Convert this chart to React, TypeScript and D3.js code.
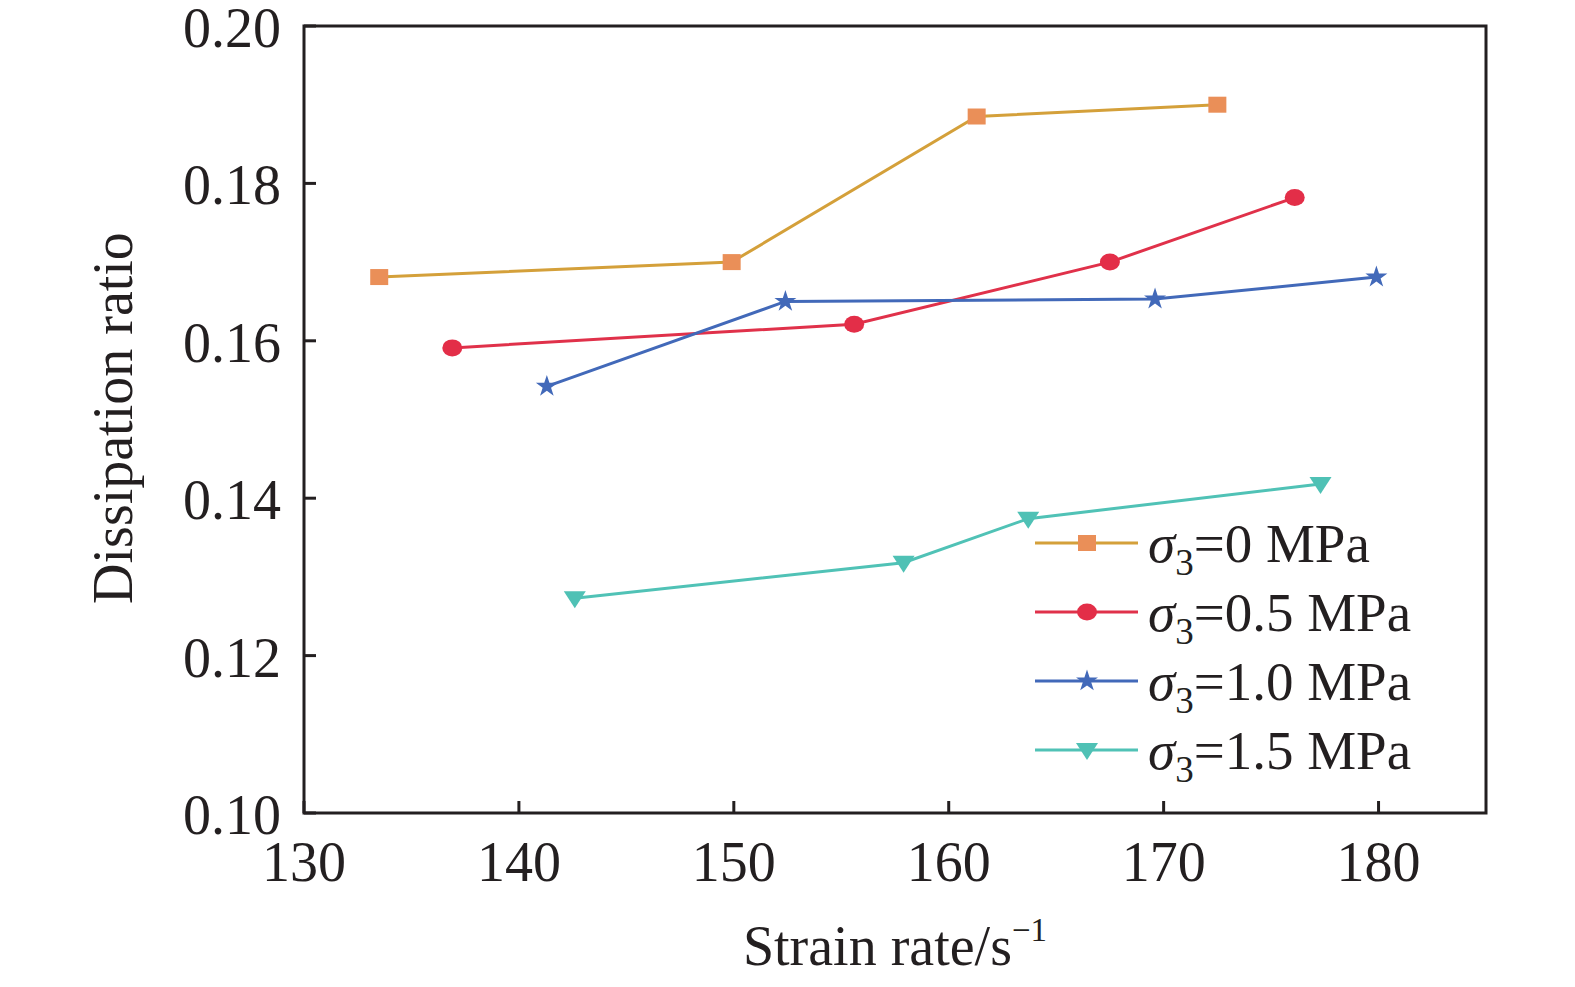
import * as d3 from 'd3';

const strainRate0 = [133.5, 149.9, 161.3, 172.5];
const ratio0 = [0.1681, 0.17, 0.1885, 0.19];
const strainRate05 = [136.9, 155.6, 167.5, 176.1];
const ratio05 = [0.1591, 0.1621, 0.17, 0.1782];
const strainRate10 = [141.3, 152.4, 169.6, 179.9];
const ratio10 = [0.1542, 0.165, 0.1653, 0.1681];
const strainRate15 = [142.6, 157.9, 163.7, 177.3];
const ratio15 = [0.1273, 0.1318, 0.1374, 0.1418];

const xTicks = [130, 140, 150, 160, 170, 180];
const yTicks = [0.1, 0.12, 0.14, 0.16, 0.18, 0.2];
const legendLabels = ['0', '0.5', '1.0', '1.5'];

const width = 1575;
const height = 987;
const margins = { top: 26, right: 89, bottom: 174, left: 304 };

type Series = { xs: number[]; ys: number[]; line: string; fill: string; marker: string };

const series: Series[] = [
    { xs: strainRate0, ys: ratio0, line: '#D4A03A', fill: '#EA8F58', marker: 'square' },
    { xs: strainRate05, ys: ratio05, line: '#E0314A', fill: '#E32E48', marker: 'circle' },
    { xs: strainRate10, ys: ratio10, line: '#4269B9', fill: '#4269B9', marker: 'star' },
    { xs: strainRate15, ys: ratio15, line: '#50C2B6', fill: '#4FC1B5', marker: 'triangle' },
];

const font = '"Liberation Serif", "Times New Roman", serif';

function Marker({ type, x, y, fill }: { type: string; x: number; y: number; fill: string }) {
    if (type === 'square') return <rect x={x - 9} y={y - 8} width={18} height={16} fill={fill} />;
    if (type === 'circle') return <ellipse cx={x} cy={y} rx={10} ry={8.5} fill={fill} />;
    if (type === 'star') {
        const p = d3.symbol().type(d3.symbolStar).size(150)();
        return <path d={p as string} transform={`translate(${x},${y})`} fill={fill} />;
    }
    return <path d="M-11,-7 L11,-7 L0,10 Z" transform={`translate(${x},${y})`} fill={fill} />;
}

export default function App() {
    const xScale = d3.scaleLinear().domain([130, 185]).range([margins.left, width - margins.right]);
    const yScale = d3.scaleLinear().domain([0.1, 0.2]).range([height - margins.bottom, margins.top]);
    const line = d3
        .line<[number, number]>()
        .x((d) => xScale(d[0]))
        .y((d) => yScale(d[1]));

    const x0 = margins.left;
    const x1 = width - margins.right;
    const y0 = height - margins.bottom;
    const y1 = margins.top;

    return (
        <svg width={width} height={height} style={{ display: 'block', position: 'absolute', left: 0, top: 0 }} fontFamily={font}>
            <rect width={width} height={height} fill="#fff" />
            {series.map((s, i) => {
                const pts = s.xs.map((x, j) => [x, s.ys[j]] as [number, number]);
                return (
                    <g key={i}>
                        <path d={line(pts) as string} fill="none" stroke={s.line} strokeWidth={3} />
                        {pts.map((p, j) => (
                            <Marker key={j} type={s.marker} x={xScale(p[0])} y={yScale(p[1])} fill={s.fill} />
                        ))}
                    </g>
                );
            })}
            <rect x={x0} y={y1} width={x1 - x0} height={y0 - y1} fill="none" stroke="#231f20" strokeWidth={3} />
            {xTicks.map((t) => (
                <g key={t}>
                    <line x1={xScale(t)} x2={xScale(t)} y1={y0} y2={y0 - 12} stroke="#231f20" strokeWidth={3} />
                    <text x={xScale(t)} y={y0 + 68} textAnchor="middle" fontSize={56} fill="#231f20">
                        {t}
                    </text>
                </g>
            ))}
            {yTicks.map((t) => (
                <g key={t}>
                    <line x1={x0} x2={x0 + 12} y1={yScale(t)} y2={yScale(t)} stroke="#231f20" strokeWidth={3} />
                    <text x={x0 - 23} y={yScale(t) + 21} textAnchor="end" fontSize={56} fill="#231f20">
                        {t.toFixed(2)}
                    </text>
                </g>
            ))}
            <text x={(x0 + x1) / 2} y={965} textAnchor="middle" fontSize={56} fill="#231f20">
                Strain rate/s
                <tspan dy={-24} fontSize={33}>
                    −1
                </tspan>
            </text>
            <text transform={`translate(132, 418) rotate(-90)`} textAnchor="middle" fontSize={56} fill="#231f20">
                Dissipation ratio
            </text>
            {series.map((s, i) => {
                const ly = 543 + i * 69;
                return (
                    <g key={'lg' + i}>
                        <line x1={1035} x2={1138} y1={ly} y2={ly} stroke={s.line} strokeWidth={3} />
                        <Marker type={s.marker} x={1087} y={ly} fill={s.fill} />
                        <text x={1148} y={ly + 19} fontSize={55} fill="#231f20">
                            <tspan fontStyle="italic">σ</tspan>
                            <tspan dy={13} fontSize={37}>
                                3
                            </tspan>
                            <tspan dy={-13}>={legendLabels[i]} MPa</tspan>
                        </text>
                    </g>
                );
            })}
        </svg>
    );
}
